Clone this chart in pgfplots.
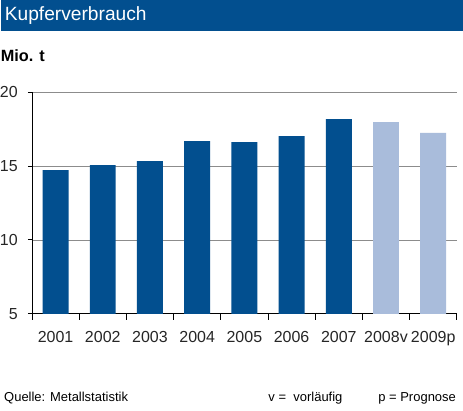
\documentclass[border=0pt]{standalone}
\usepackage{pgfplots}
\pgfplotsset{compat=1.18}
\usepackage{fontspec}
\setmainfont{Liberation Sans}
\definecolor{darkblue}{HTML}{024F8F}
\definecolor{lightblue}{HTML}{A9BCDB}
\definecolor{gridgray}{HTML}{8C8C8C}
\begin{document}
\begin{tikzpicture}[x=1pt,y=1pt]
\fill[white] (0,0) rectangle (463,411);
\fill[darkblue] (0,380) rectangle (463,411);
\node[anchor=base west, inner sep=0pt, text=white, font=\fontsize{19.2}{21}\selectfont] at (4,390.5) {Kupferverbrauch};
\node[anchor=base west, inner sep=0pt, font=\fontsize{16.3}{18}\selectfont\bfseries] at (0,349.5) {Mio. t};
\node[anchor=base west, inner sep=0pt, font=\fontsize{13}{15}\selectfont] at (3.3,8.5) {Quelle: Metallstatistik};
\node[anchor=base west, inner sep=0pt, font=\fontsize{13}{15}\selectfont] at (268,8.5) {v =\ \ vorläufig};
\node[anchor=base west, inner sep=0pt, font=\fontsize{13}{15}\selectfont] at (378,8.5) {p = Prognose};
\begin{axis}[
  at={(31.3pt,96.7pt)}, anchor=south west,
  scale only axis, width=425.5pt, height=222pt,
  xmin=-0.5, xmax=8.5, ymin=5, ymax=20,
  axis x line*=bottom, axis y line*=left,
  axis line style={black, line width=0.9pt},
  ytick={5,10,15,20},
  ymajorgrids, grid style={gridgray, line width=0.8pt},
  xtick={0,...,8},
  xticklabels={2001,2002,2003,2004,2005,2006,2007,2008v,2009p},
  minor xtick={-0.5,0.5,...,8.5},
  major x tick style={draw=none},
  minor x tick style={black, line width=0.9pt},
  tick align=outside,
  minor tick length=6pt,
  major tick length=4pt,
  y tick style={black, line width=0.9pt},
  ticklabel style={font=\fontsize{16}{18}\selectfont, text=black!85},
  yticklabel style={inner sep=0pt, xshift=-10pt},
  xticklabel style={inner sep=0pt, yshift=-13pt},
  /pgf/number format/assume math mode=true,
  ybar, bar width=26pt,
  clip=false,
]
\addplot[fill=darkblue, draw=none, bar shift=0pt] coordinates {
  (0,14.73) (1,15.07) (2,15.34) (3,16.69) (4,16.62) (5,17.03) (6,18.18)
};
\addplot[fill=lightblue, draw=none, bar shift=0pt] coordinates {
  (7,17.98) (8,17.24)
};
\end{axis}
\end{tikzpicture}
\end{document}
